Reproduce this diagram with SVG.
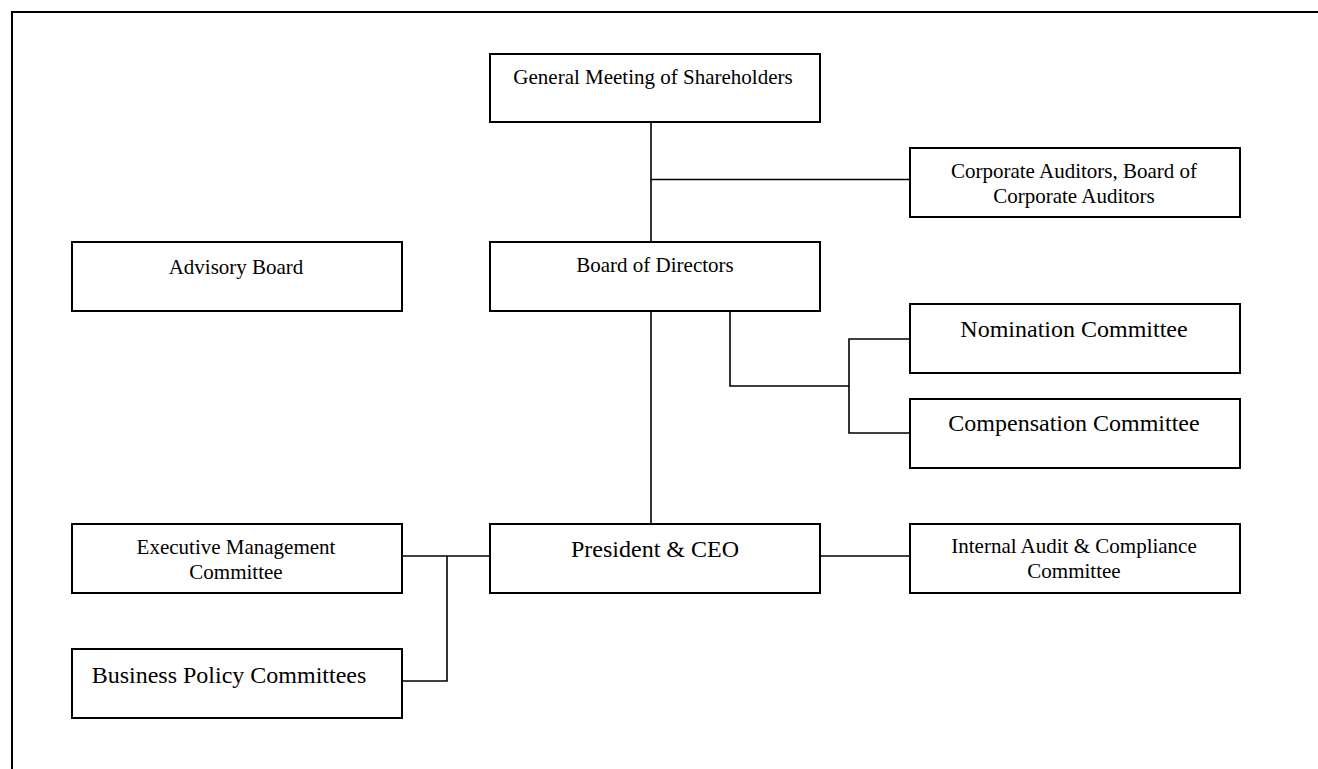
<svg xmlns="http://www.w3.org/2000/svg" width="1318" height="769" viewBox="0 0 1318 769">
<style>
.box{fill:#fff;stroke:#000;stroke-width:2}
.t{font-family:"Liberation Serif","Times New Roman",serif;fill:#000;text-anchor:middle}
.s{font-size:21px}
.l{font-size:24px}
.c{fill:none;stroke:#000;stroke-width:1.6}
</style>
<rect width="1318" height="769" fill="#fff"/>
<path d="M12,769 V12 H1318" fill="none" stroke="#000" stroke-width="2"/>
<g id="connectors">
<path class="c" d="M651,122 V242"/>
<path class="c" d="M651,179.5 H910"/>
<path class="c" d="M651,311 V524"/>
<path class="c" d="M730,311 V386 H849"/>
<path class="c" d="M910,339 H849 V433 H910"/>
<path class="c" d="M820,556 H910"/>
<path class="c" d="M401,556 H490"/>
<path class="c" d="M447,556 V681 H401"/>
</g>
<g id="gms"><rect class="box" x="490" y="54" width="330" height="68"/><text class="t s" x="653" y="84">General Meeting of Shareholders</text></g>
<g id="auditors"><rect class="box" x="910" y="148" width="330" height="69"/><text class="t s" x="1074" y="178">Corporate Auditors, Board of</text><text class="t s" x="1074" y="202.5">Corporate Auditors</text></g>
<g id="advisory"><rect class="box" x="72" y="242" width="330" height="69"/><text class="t s" x="236" y="274">Advisory Board</text></g>
<g id="board"><rect class="box" x="490" y="242" width="330" height="69"/><text class="t s" x="655" y="272">Board of Directors</text></g>
<g id="nomination"><rect class="box" x="910" y="304" width="330" height="69"/><text class="t l" x="1074" y="337">Nomination Committee</text></g>
<g id="compensation"><rect class="box" x="910" y="399" width="330" height="69"/><text class="t l" x="1074" y="431">Compensation Committee</text></g>
<g id="president"><rect class="box" x="490" y="524" width="330" height="69"/><text class="t l" x="655" y="557">President &amp; CEO</text></g>
<g id="internal"><rect class="box" x="910" y="524" width="330" height="69"/><text class="t s" x="1074" y="553">Internal Audit &amp; Compliance</text><text class="t s" x="1074" y="577.5">Committee</text></g>
<g id="executive"><rect class="box" x="72" y="524" width="330" height="69"/><text class="t s" x="236" y="554">Executive Management</text><text class="t s" x="236" y="578.5">Committee</text></g>
<g id="business"><rect class="box" x="72" y="649" width="330" height="69"/><text class="t l" x="229" y="683">Business Policy Committees</text></g>
</svg>
